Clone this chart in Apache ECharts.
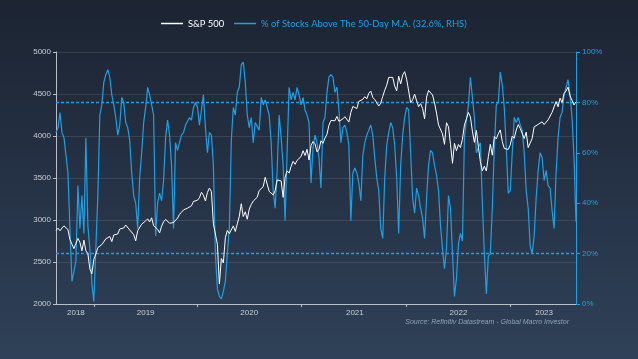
<!DOCTYPE html>
<html>
<head>
<meta charset="utf-8">
<script src="https://cdn.jsdelivr.net/npm/echarts@6/dist/echarts.min.js"></script>
<style>
html,body{margin:0;padding:0;width:638px;height:359px;overflow:hidden;}
body{background:linear-gradient(180deg,#1c2432 0%,#243043 45%,#2f4158 100%);}
#c{width:638px;height:359px;}
</style>
</head>
<body>
<div id="c"></div>
<script>
// ---- DATA ----
const startDate = '2018-08-24';
const weekCount = 262;
const yearLabels = ['2018','2019','2020','2021','2022','2023'];
const leftTicks = [2000,2500,3000,3500,4000,4500,5000];
const rightTicks = [0,20,40,60,80,100];
const refLevels = [80,20];

const spx = [
2875,2902,2872,2905,2930,2914,2886,2767,2768,2659,2723,2781,2736,2633,2760,2633,2600,2417,2360,
2532,2596,2671,2665,2707,2708,2776,2793,2804,2743,2822,2801,2834,2893,2907,2905,2940,2946,2881,2860,2826,2752,2873,2887,2950,2942,2990,3014,2977,3026,2932,2919,2889,2847,2926,2979,3007,2992,2962,2952,2970,2986,3023,3067,3093,3120,3110,3141,3146,3169,3221,3240,
3235,3265,3330,3295,3226,3328,3380,3338,2954,2972,2711,2237,2541,2489,2790,2875,2837,2831,2930,2864,2955,3044,3194,3041,3098,3009,3130,3185,3225,3216,3271,3351,3373,3397,3508,3427,3341,3319,3298,3348,3477,3484,3465,3270,3509,3585,3558,3638,3699,3663,3709,3703,3756,
3825,3768,3841,3714,3887,3934,3907,3811,3842,3943,3913,3975,4020,4129,4185,4180,4181,4233,4174,4156,4204,4230,4247,4166,4281,4352,4370,4327,4412,4395,4437,4468,4442,4509,4535,4459,4433,4455,4357,4391,4471,4545,4605,4698,4682,4698,4595,4538,4712,4620,4726,4766,
4677,4662,4398,4432,4500,4419,4349,4385,4329,4204,4463,4543,4546,4488,4393,4272,4132,4123,4024,3901,4158,4109,3901,3675,3912,3825,3899,3863,3962,4130,4145,4280,4228,4058,3924,4067,3873,3693,3586,3640,3583,3753,3901,3771,3993,3965,4026,4072,3934,3852,3845,3840,
3895,3999,3973,4071,4136,4090,4079,3970,4046,3862,3917,3971,4109,4105,4138,4133,4169,4136,4124,4192,4205,4282,4299,4410,4348,4450,4399,4505,4536,4582,4478,4464,4370,4406
];

const pctAbove50 = [
68,70,76,68,66,66,52,30,9,13,
17,47,30,43,28,66,31,22,8,1,
22,43,75,79,88,91,93,90,83,79,
74,67,71,82,80,72,70,65,52,43,
40,30,50,60,72,78,86,83,79,75,
27,40,44,41,49,66,73,67,55,30,
64,61,64,67,68,71,71,74,73,78,
80,78,71,77,83,70,60,68,67,55,
20,6,3,2,5,9,20,30,65,78,
75,84,86,95,96,88,75,70,74,64,
72,72,69,82,79,81,81,75,64,45,
38,53,75,66,55,33,60,86,81,84,
81,86,83,79,82,77,75,72,48,62,
67,64,58,46,72,74,84,90,91,90,
84,86,77,64,70,71,68,63,33,52,
54,52,48,41,59,64,67,69,71,67,
58,50,45,30,26,50,63,68,72,70,
63,50,28,55,67,74,78,77,60,42,
36,46,43,38,34,26,42,55,61,60,
55,51,45,31,22,14,22,43,38,20,
3,10,24,28,25,66,73,79,90,90,
74,60,62,64,40,20,4,19,20,38,
62,79,80,92,87,78,62,44,45,60,
74,72,74,71,69,60,45,38,23,20,
27,42,53,60,58,49,53,47,46,37,
30,52,66,74,76,83,86,89,83,74,58,32.6
];

// weekly category dates
const weeks = [];
(function(){
  const d = new Date(startDate + 'T00:00:00Z');
  for (let i = 0; i < weekCount; i++) {
    weeks.push(d.toISOString().slice(0,10));
    d.setUTCDate(d.getUTCDate() + 7);
  }
})();
const yearStartIdx = new Set();
for (let i = 1; i < weeks.length; i++) {
  if (weeks[i].slice(0,4) !== weeks[i-1].slice(0,4)) yearStartIdx.add(i);
}
const labelIdx = new Set();
(function(){
  const bounds = [0, ...Array.from(yearStartIdx), weeks.length - 1];
  for (let k = 0; k < bounds.length - 1; k++) {
    labelIdx.add(Math.round((bounds[k] + bounds[k+1]) / 2));
  }
})();

const BLUE = '#1fa0e6';
const LABEL = '#c9ced6';
const chart = echarts.init(document.getElementById('c'), null, {renderer:'canvas'});
chart.setOption({
  backgroundColor: 'transparent',
  animation: false,
  legend: {
    top: 14, left: 156,
    icon: 'rect',
    itemWidth: 22, itemHeight: 1.5, itemGap: 10,
    textStyle: {fontFamily: 'Lato', fontSize: 9.4},
    data: [
      {name: 'S&P 500', textStyle: {color: '#ffffff'}, itemStyle: {color: '#ffffff'}},
      {name: '% of Stocks Above The 50-Day M.A. (32.6%, RHS)', textStyle: {color: BLUE}, itemStyle: {color: BLUE}}
    ]
  },
  grid: {left: 56, right: 62, top: 52, bottom: 55},
  xAxis: {
    type: 'category', data: weeks, boundaryGap: false,
    axisLine: {lineStyle: {color: '#b9bfc8', width: 1}},
    axisTick: {show: true, length: 3, lineStyle: {color: '#b9bfc8'},
      interval: function(i){ return yearStartIdx.has(i); }},
    axisLabel: {color: LABEL, fontSize: 8, fontFamily: 'Liberation Sans', margin: 5,
      interval: function(i){ return labelIdx.has(i); },
      formatter: function(v){ return v.slice(0,4); }},
    splitLine: {show: false}
  },
  yAxis: [
    {type: 'value', min: leftTicks[0], max: leftTicks[leftTicks.length-1], interval: 500,
      axisLine: {show: true, lineStyle: {color: '#b9bfc8'}},
      axisTick: {show: true, length: 3, lineStyle: {color: '#b9bfc8'}},
      axisLabel: {color: LABEL, fontSize: 8, fontFamily: 'Liberation Sans', margin: 5,
        formatter: function(v){ return String(v); }},
      splitLine: {show: true, lineStyle: {color: 'rgba(255,255,255,0.10)', width: 1}}},
    {type: 'value', min: rightTicks[0], max: rightTicks[rightTicks.length-1], interval: 20,
      position: 'right',
      axisLine: {show: true, lineStyle: {color: BLUE}},
      axisTick: {show: true, length: 4, lineStyle: {color: BLUE}},
      axisLabel: {color: BLUE, fontSize: 8, fontFamily: 'Liberation Sans', margin: 6,
        formatter: function(v){ return v + '%'; }},
      splitLine: {show: false}}
  ],
  series: [
    {name: 'S&P 500', type: 'line', yAxisIndex: 0, data: spx, symbol: 'none', showSymbol: false,
      z: 3, lineStyle: {color: '#ffffff', width: 1}, itemStyle: {color: '#ffffff'}},
    {name: '% of Stocks Above The 50-Day M.A. (32.6%, RHS)', type: 'line', yAxisIndex: 1,
      data: pctAbove50, symbol: 'none', showSymbol: false, z: 2,
      lineStyle: {color: BLUE, width: 1.2}, itemStyle: {color: BLUE},
      markLine: {silent: true, symbol: 'none', label: {show: false}, z: 1,
        emphasis: {disabled: true},
        lineStyle: {color: BLUE, type: [3,2], width: 1.3, opacity: 1},
        data: refLevels.map(v => ({yAxis: v, lineStyle: {color: BLUE, opacity: 1}}))}}
  ],
  graphic: [{
    type: 'text', right: 69, top: 319,
    style: {text: 'Source: Refinitiv Datastream - Global Macro Investor',
      fill: '#8fa2ba', font: 'italic 7px "Liberation Sans"', textAlign: 'right'}
  }]
});
</script>
</body>
</html>
